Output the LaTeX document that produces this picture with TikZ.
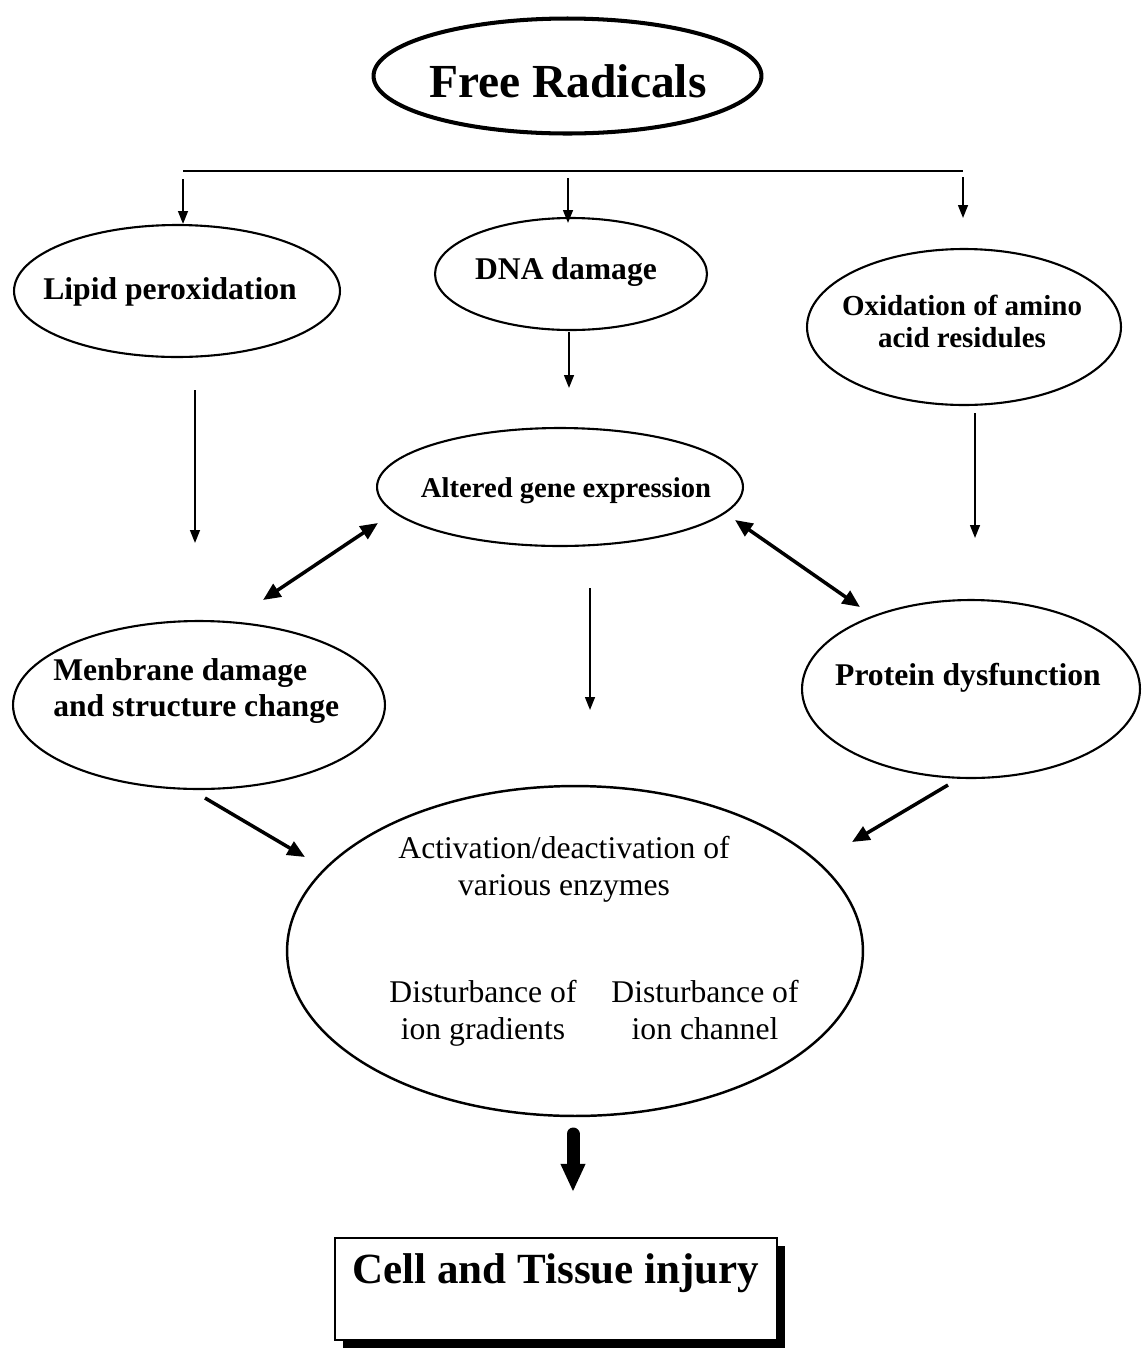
\documentclass[tikz,border=0pt]{standalone}
\usepackage{fontspec}
\setmainfont{Liberation Serif}
\usetikzlibrary{shapes.geometric,arrows.meta,shadows}
\begin{document}
\begin{tikzpicture}[x=0.02cm,y=-0.02cm,
  ell/.style={ellipse,draw,line width=1.2pt,inner sep=0pt},
  lab/.style={inner sep=0pt,font=\bfseries\fontsize{18}{20.4}\selectfont,align=center,anchor=base},
  txt/.style={inner sep=0pt,font=\fontsize{18}{21}\selectfont,align=center,anchor=base},
  arr/.style={line width=1.1pt,-{Triangle[width=5.6pt,length=7.4pt]}},
  darr/.style={line width=2pt,{Triangle[width=8.5pt,length=10pt]}-{Triangle[width=8.5pt,length=10pt]}},
  sarr/.style={line width=2pt,-{Triangle[width=8.5pt,length=10pt]}},
  bigarr/.style={line width=7.4pt,line cap=round,-{Triangle[width=13pt,length=16pt]}}
]
\useasboundingbox (0,0) rectangle (1142,1350);

% ellipses
\node[ell,line width=2.3pt,minimum width=7.76cm,minimum height=2.3cm] (fr) at (567.5,76) {};
\node[ell,minimum width=6.52cm,minimum height=2.64cm] (lipid) at (177,291) {};
\node[ell,minimum width=5.44cm,minimum height=2.24cm] (dna) at (571,274) {};
\node[ell,minimum width=6.28cm,minimum height=3.12cm] (oxid) at (964,327) {};
\node[ell,minimum width=7.32cm,minimum height=2.36cm] (altered) at (560,487) {};
\node[ell,minimum width=7.44cm,minimum height=3.36cm] (membrane) at (199,705) {};
\node[ell,minimum width=6.76cm,minimum height=3.56cm] (protein) at (971,689) {};
\node[ell,line width=1.4pt,minimum width=11.52cm,minimum height=6.6cm] (big) at (575,951) {};
\node[draw,fill=white,line width=1.2pt,minimum width=8.84cm,minimum height=2.04cm,inner sep=0pt,
  drop shadow={shadow xshift=0.16cm,shadow yshift=-0.16cm,fill=black,opacity=1}] (box) at (556,1289) {};

% labels (base anchor = baseline of the last line)
\node[lab,font=\bfseries\fontsize{27}{30}\selectfont] (frt) at (568,97) {Free Radicals};
\node[lab] (lipidt) at (170,299) {Lipid peroxidation};
\node[lab] (dnat) at (566,279) {DNA damage};
\node[lab,font=\bfseries\fontsize{16.5}{18.2}\selectfont] (oxidt) at (962,347) {Oxidation of amino\\acid residules};
\node[lab,font=\bfseries\fontsize{16.3}{18}\selectfont] (alteredt) at (566,497) {Altered gene expression};
\node[lab,align=left,anchor=base west] (membranet) at (53,716) {Menbrane damage\\and structure change};
\node[lab] (proteint) at (968,685) {Protein dysfunction};
\node[txt] (act) at (564,895) {Activation/deactivation of\\various enzymes};
\node[txt] (dgrad) at (483,1039) {Disturbance of\\ion gradients};
\node[txt] (dchan) at (705,1039) {Disturbance of\\ion channel};
\node[lab,font=\bfseries\fontsize{24.5}{28}\selectfont] (cellt) at (556,1283) {Cell and Tissue injury};

% bus
\coordinate (busL) at (183,171);
\coordinate (busM) at (568,171);
\coordinate (busR) at (963,171);
\draw[line width=1.6pt] (busL) -- (busR);
\draw[arr,shorten <=0.16cm] (busL) -- (183,224) coordinate (lipidin);
\draw[arr,shorten <=0.14cm] (busM) -- (568,223) coordinate (dnain);
\draw[arr,shorten <=0.12cm] (busR) -- (963,218) coordinate (oxidin);

% vertical arrows
\coordinate (dnaout) at (569,332);
\coordinate (alteredin) at (569,388);
\draw[arr] (dnaout) -- (alteredin);
\coordinate (lipidout) at (195,390);
\coordinate (membranein) at (195,543);
\draw[arr] (lipidout) -- (membranein);
\coordinate (oxidout) at (975,413);
\coordinate (proteinin) at (975,538);
\draw[arr] (oxidout) -- (proteinin);
\coordinate (alteredout) at (590,588);
\coordinate (bigin) at (590,710);
\draw[arr] (alteredout) -- (bigin);

% double arrows
\coordinate (altL) at (378,523);
\coordinate (memU) at (263,600);
\draw[darr] (altL) -- (memU);
\coordinate (altR) at (735,520);
\coordinate (proU) at (860,607);
\draw[darr] (altR) -- (proU);

% diagonal arrows into big ellipse
\coordinate (memout) at (205,798);
\coordinate (bigL) at (305,857);
\draw[sarr] (memout) -- (bigL);
\coordinate (proout) at (948,785);
\coordinate (bigR) at (852,842);
\draw[sarr] (proout) -- (bigR);

% thick arrow
\coordinate (bigout) at (573,1134);
\coordinate (boxin) at (573,1192);
\draw[bigarr] (bigout) -- (boxin);
\end{tikzpicture}
\end{document}
